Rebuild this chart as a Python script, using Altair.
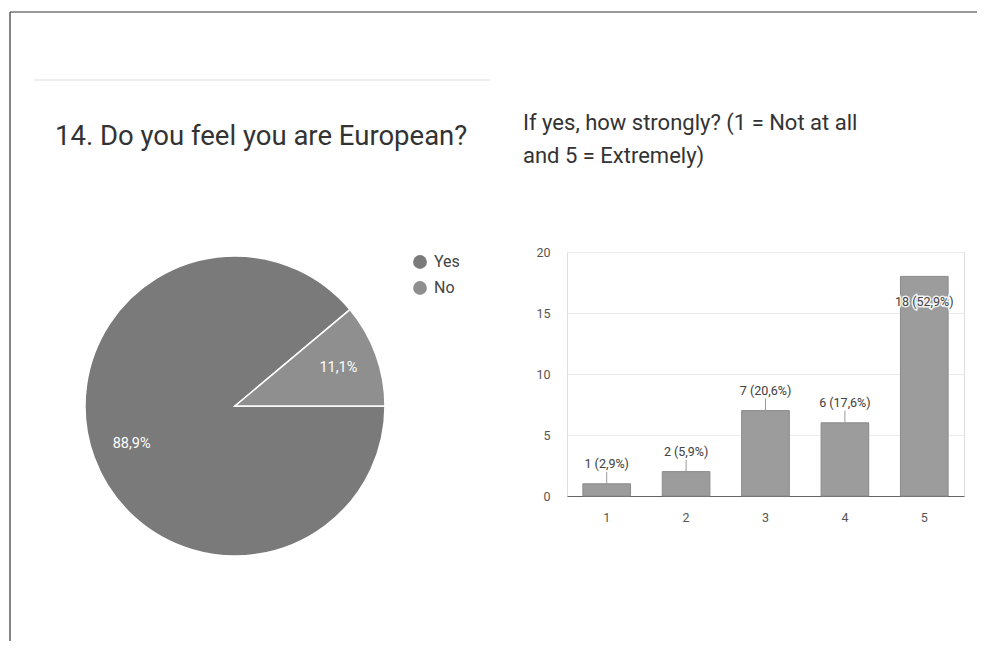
import math
import altair as alt
import pandas as pd

# ---- data ----
pie_cats = ["Yes", "No"]
pie_counts = [40, 5]
pie_text = ["88,9%", "11,1%"]

bar_cats = ["1", "2", "3", "4", "5"]
bar_counts = [1, 2, 7, 6, 18]
y_grid_values = [0, 2.5, 5, 7.5, 10, 12.5, 15, 17.5, 20]

left_title = "14. Do you feel you are European?"
right_title = ["If yes, how strongly? (1 = Not at all", "and 5 = Extremely)"]

total = sum(bar_counts)
bar_labels = [f"{v} ({v / total * 100:.1f}%)".replace(".", ",") for v in bar_counts]

pie_df = pd.DataFrame({"cat": pie_cats, "n": pie_counts, "lbl": pie_text, "idx": list(range(len(pie_cats)))})
bar_df = pd.DataFrame({"cat": bar_cats, "v": bar_counts, "lbl": bar_labels})

FONT = "Roboto"
one = alt.Data(values=[{}])

# plot area origin = page (567, 252)
PX, PY = 567, 252

bars = alt.Chart(bar_df).mark_bar(color="#9c9c9c", stroke="#8a8a8a", strokeWidth=1).encode(
    x=alt.X("cat:N", sort=bar_cats,
            scale=alt.Scale(paddingInner=0.4, paddingOuter=0.2),
            axis=alt.Axis(title=None, labelAngle=0, ticks=False, domain=True, domainColor="#666",
                          domainWidth=1, labelPadding=15, labelFontSize=12.5, labelColor="#555",
                          labelFont=FONT, grid=False)),
    y=alt.Y("v:Q", scale=alt.Scale(domain=[0, 20], nice=False),
            axis=alt.Axis(title=None, values=y_grid_values,
                          labelExpr="datum.value % 5 == 0 ? datum.label : ''",
                          grid=True, gridColor="#ececec", domain=False, ticks=False,
                          labelPadding=17, labelFontSize=12.5, labelColor="#555", labelFont=FONT)),
)

lab_base = alt.Chart(bar_df).transform_calculate(
    ly="datum.v > 15 ? datum.v - 2.1 : datum.v + 1.6",
    ry2="datum.v + 1.0",
)

connectors = lab_base.transform_filter("datum.v <= 15").mark_rule(color="#999", strokeWidth=1).encode(
    x=alt.X("cat:N", sort=bar_cats), y="v:Q", y2="ry2:Q"
)

halo = lab_base.mark_text(fontSize=12.5, font=FONT, color="#444", stroke="white", strokeWidth=3,
                          strokeOpacity=0.9).encode(
    x=alt.X("cat:N", sort=bar_cats), y="ly:Q", text="lbl:N"
)
labels = lab_base.mark_text(fontSize=12.5, font=FONT, color="#444").encode(
    x=alt.X("cat:N", sort=bar_cats), y="ly:Q", text="lbl:N"
)

cx, cy = 235 - PX, 406 - PY

pie = alt.Chart(pie_df).mark_arc(outerRadius=150, stroke="white", strokeWidth=1.5).encode(
    theta=alt.Theta("n:Q", stack=True,
                    scale=alt.Scale(range=[math.pi / 2, math.pi / 2 + 2 * math.pi])),
    color=alt.Color("cat:N", sort=pie_cats,
                    scale=alt.Scale(domain=pie_cats, range=["#7a7a7a", "#8f8f8f"]),
                    legend=alt.Legend(orient="none", legendX=412 - PX, legendY=254 - PY,
                                      title=None, symbolType="circle", symbolSize=190,
                                      symbolStrokeWidth=0, labelFontSize=16, labelColor="#444",
                                      labelFont=FONT, rowPadding=10, labelOffset=6)),
    order=alt.Order("idx:Q"),
    x=alt.value(cx), y=alt.value(cy),
)

pie_lbl = alt.Chart(pie_df).mark_text(radius=110, color="white", fontSize=14.5, font=FONT).encode(
    theta=alt.Theta("n:Q", stack=True),
    order=alt.Order("idx:Q"),
    text="lbl:N",
    x=alt.value(cx), y=alt.value(cy),
)

t_left = alt.Chart(one).mark_text(text=left_title, align="left", baseline="middle", fontSize=27.5,
                                  font=FONT, color="#333").encode(
    x=alt.value(55 - PX), y=alt.value(137 - PY))
t_r1 = alt.Chart(one).mark_text(text=right_title[0], align="left", baseline="middle", fontSize=22,
                                font=FONT, color="#333").encode(
    x=alt.value(523 - PX), y=alt.value(123 - PY))
t_r2 = alt.Chart(one).mark_text(text=right_title[1], align="left", baseline="middle", fontSize=22,
                                font=FONT, color="#333").encode(
    x=alt.value(523 - PX), y=alt.value(156 - PY))

top_border = alt.Chart(one).mark_rule(color="#333", strokeWidth=1.2).encode(
    x=alt.value(10 - PX), x2=alt.value(990 - PX), y=alt.value(12 - PY))
left_border = alt.Chart(one).mark_rule(color="#333", strokeWidth=1.2).encode(
    x=alt.value(10 - PX), y=alt.value(12 - PY), y2=alt.value(660 - PY))
sep = alt.Chart(one).mark_rule(color="#efefef", strokeWidth=2).encode(
    x=alt.value(34 - PX), x2=alt.value(490 - PX), y=alt.value(80 - PY))

chart = alt.layer(
    top_border, left_border, sep, t_left, t_r1, t_r2,
    bars, connectors, halo, labels, pie, pie_lbl
).properties(
    width=397, height=244,
    autosize=alt.AutoSizeParams(type="none"),
    padding={"left": PX - 8, "top": PY - 8, "right": 969 - (PX - 8) - 397, "bottom": 633 - (PY - 8) - 244},
).configure_view(strokeWidth=0).configure(background="white")

chart.save("out.html", embed_options={"renderer": "svg", "actions": False})
